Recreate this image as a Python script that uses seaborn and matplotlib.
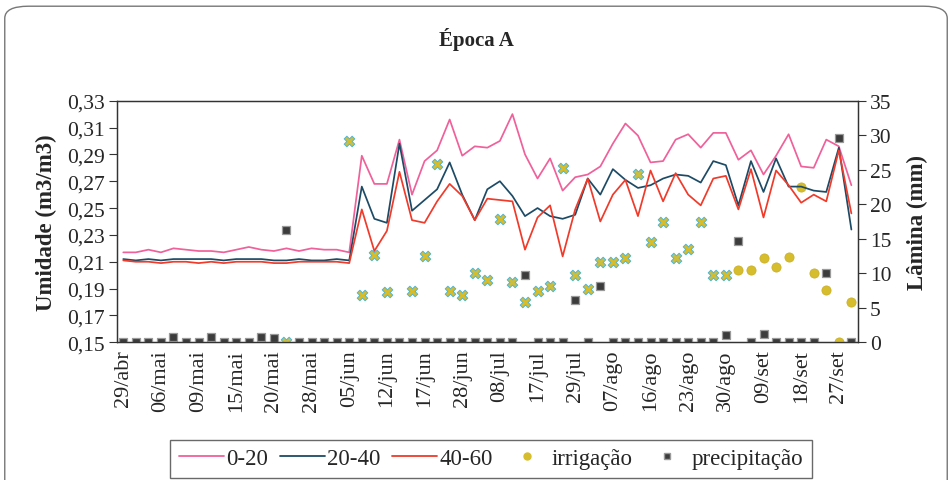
import numpy as np
import pandas as pd
import matplotlib
matplotlib.use("Agg")
import matplotlib.pyplot as plt
from matplotlib.lines import Line2D
from matplotlib.patches import FancyBboxPatch
from matplotlib.ticker import FuncFormatter, FixedLocator
import seaborn as sns

# ---------------- data ----------------
tick_labels = ["29/abr", "06/mai", "09/mai", "15/mai", "20/mai", "28/mai", "05/jun",
               "12/jun", "17/jun", "28/jun", "08/jul", "17/jul", "29/jul", "07/ago",
               "16/ago", "23/ago", "30/ago", "09/set", "18/set", "27/set"]

umid_0_20 = [0.217, 0.217, 0.219, 0.217, 0.220, 0.219, 0.218, 0.218, 0.217, 0.219,
             0.221, 0.219, 0.218, 0.220, 0.218, 0.220, 0.219, 0.219, 0.217,
             0.289, 0.268, 0.268, 0.301, 0.260, 0.285, 0.293, 0.316, 0.289, 0.296,
             0.295, 0.300, 0.320, 0.290, 0.272, 0.287, 0.263, 0.273, 0.275, 0.281,
             0.298, 0.313, 0.304, 0.284, 0.285, 0.301, 0.305, 0.295, 0.306, 0.306,
             0.286, 0.293, 0.275, 0.289, 0.305, 0.281, 0.280, 0.301, 0.296, 0.267]

umid_20_40 = [0.212, 0.211, 0.212, 0.211, 0.212, 0.212, 0.212, 0.212, 0.211, 0.212,
              0.212, 0.212, 0.211, 0.211, 0.212, 0.211, 0.211, 0.212, 0.211,
              0.266, 0.242, 0.239, 0.298, 0.248, 0.256, 0.264, 0.284, 0.260, 0.241,
              0.264, 0.270, 0.259, 0.244, 0.250, 0.244, 0.242, 0.245, 0.272, 0.260,
              0.279, 0.271, 0.265, 0.267, 0.272, 0.275, 0.274, 0.269, 0.285, 0.282,
              0.252, 0.285, 0.262, 0.287, 0.266, 0.266, 0.263, 0.262, 0.295, 0.234]

umid_40_60 = [0.211, 0.210, 0.210, 0.209, 0.210, 0.210, 0.209, 0.210, 0.209, 0.210,
              0.210, 0.210, 0.209, 0.209, 0.210, 0.210, 0.210, 0.210, 0.209,
              0.249, 0.218, 0.233, 0.277, 0.241, 0.239, 0.255, 0.268, 0.259, 0.241,
              0.257, 0.256, 0.255, 0.219, 0.243, 0.252, 0.214, 0.249, 0.272, 0.240,
              0.260, 0.271, 0.244, 0.278, 0.255, 0.276, 0.260, 0.252, 0.272, 0.274,
              0.249, 0.279, 0.243, 0.278, 0.267, 0.254, 0.260, 0.255, 0.293, 0.246]

nan = np.nan
irrigacao = [nan, nan, nan, nan, nan, nan, nan, nan, nan, nan,
             nan, nan, nan, 0.0, nan, nan, nan, nan, 29.2,
             6.8, 12.7, 7.3, nan, 7.5, 12.5, 25.9, 7.5, 6.9, 10.1,
             9.0, 17.9, 8.8, 5.8, 7.5, 8.1, 25.3, 9.7, 7.7, 11.6,
             11.6, 12.2, 24.4, 14.5, 17.4, 12.2, 13.5, 17.4, 9.7, 9.7,
             10.4, 10.4, 12.2, 10.9, 12.4, 22.5, 10.1, 7.6, 0.0, 5.9]

precipitacao = [0, 0, 0, 0, 0.8, 0, 0, 0.7, 0, 0,
                0, 0.8, 0.6, 16.2, 0, 0, 0, 0, 0,
                0, 0, 0, 0, 0, 0, 0, 0, 0, 0,
                0, 0, 0, 9.7, 0, 0, 0, 6.1, 0, 8.1,
                0, 0, 0, 0, 0, 0, 0, 0, 0, 1.1,
                14.7, 0, 1.2, 0, 0, 0, 0, 10.0, 29.6, 0]

n = len(umid_0_20)
idx = np.arange(n)
df = pd.DataFrame({"i": idx, "a": umid_0_20, "b": umid_20_40, "c": umid_40_60,
                   "irr": irrigacao, "pre": precipitacao})
# irrigation points drawn with the cross symbol (first part of the season)
cross_until = 48
df["cross"] = df["i"] <= cross_until

# ---------------- style ----------------
sns.set_theme(style="white")
plt.rcParams["font.family"] = ["Liberation Serif", "DejaVu Serif"]

c_pink = "#f0609a"
c_blue = "#1d4b66"
c_red = "#f03a2a"
c_yel = "#d6bd2e"
c_sq = "#3c3c3c"

fig = plt.figure(figsize=(9.52, 4.81), dpi=100)
ax = fig.add_axes([0.1229, 0.2863, 0.778, 0.5023])
ax2 = ax.twinx()

sns.lineplot(data=df, x="i", y="a", ax=ax, color=c_pink, lw=1.25)
sns.lineplot(data=df, x="i", y="b", ax=ax, color=c_blue, lw=1.25)
sns.lineplot(data=df, x="i", y="c", ax=ax, color=c_red, lw=1.25)

sns.scatterplot(data=df[df["cross"]], x="i", y="irr", ax=ax2, marker="X", s=58,
                color=c_yel, edgecolor="#4fb6d6", linewidth=0.7, zorder=4)
sns.scatterplot(data=df[~df["cross"]], x="i", y="irr", ax=ax2, marker="o", s=44,
                color=c_yel, edgecolor="#c9ad20", linewidth=0.5, zorder=4)
sns.scatterplot(data=df, x="i", y="pre", ax=ax2, marker="s", s=40,
                color=c_sq, edgecolor="#9a9a9a", linewidth=0.9, zorder=3)

ax.set_zorder(ax2.get_zorder() + 1)
ax.patch.set_visible(False)

ax.set_xlim(-0.5, n - 0.5)
ax.set_ylim(0.15, 0.33)
ax2.set_ylim(0, 35)
ax.set_yticks(np.arange(0.15, 0.3301, 0.02))
ax.yaxis.set_major_formatter(FuncFormatter(lambda v, p: f"{v:.2f}".replace(".", ",")))
ax2.set_yticks(np.arange(0, 36, 5))

ax.set_xticks(np.arange(0, n, 3))
ax.set_xticklabels(tick_labels, rotation=90)
ax.xaxis.set_minor_locator(FixedLocator(np.arange(-0.5, n, 1)))
ax.tick_params(axis="x", which="major", length=0, labelsize=16, pad=5)
ax.tick_params(axis="x", which="minor", length=4, direction="inout", width=0.8, color="#555555")
ax.tick_params(axis="y", length=6, width=0.8, labelsize=15.5, direction="out", color="#333333", pad=3)
ax2.tick_params(axis="y", length=6, width=0.8, labelsize=15.5, direction="out", color="#333333", pad=3)

for a in (ax, ax2):
    for s in a.spines.values():
        s.set_color("#333333")
        s.set_linewidth(0.9)

ax.set_xlabel("")
ax.set_ylabel("Umidade (m3/m3)", fontsize=16.5, fontweight="bold", labelpad=7)
ax2.set_ylabel("Lâmina (mm)", fontsize=16.5, fontweight="bold", labelpad=11)

fig.text(0.5, 0.917, "Época A", ha="center", va="center", fontsize=15, fontweight="bold")

handles = [
    Line2D([], [], color=c_pink, lw=1.3, label="0-20"),
    Line2D([], [], color=c_blue, lw=1.3, label="20-40"),
    Line2D([], [], color=c_red, lw=1.3, label="40-60"),
    Line2D([], [], color=c_yel, marker="o", ls="none", ms=5, label="irrigação"),
    Line2D([], [], color=c_sq, marker="s", ls="none", ms=5, mec="#9a9a9a", label="precipitação"),
]
leg = fig.legend(handles=handles, loc="lower center", bbox_to_anchor=(0.516, 0.004),
                 ncol=5, fontsize=16.5, frameon=True, fancybox=False, borderpad=0.38,
                 handlelength=1.95, handletextpad=0.12, columnspacing=0.5,
                 borderaxespad=0.0)
leg.get_frame().set_edgecolor("#444444")
leg.get_frame().set_linewidth(1.0)

frame = FancyBboxPatch((0.005, -0.05), 0.99, 1.035, boxstyle="round,pad=0,rounding_size=0.025",
                       transform=fig.transFigure, fill=False, edgecolor="#777777", lw=1.0)
fig.patches.append(frame)

fig.savefig("out.png", dpi=100)
